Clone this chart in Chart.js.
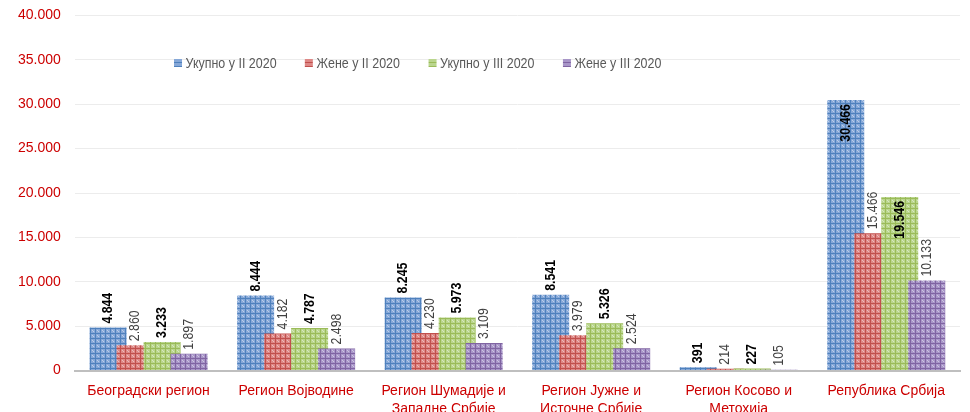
<!DOCTYPE html>
<html>
<head>
<meta charset="utf-8">
<script src="https://cdn.jsdelivr.net/npm/chart.js@4.4.1/dist/chart.umd.min.js"></script>
<style>
  body { margin: 0; background: #fff; }
  #wrap { position: relative; width: 970px; height: 412px; overflow: hidden; }
  #chart { position: absolute; left: 0; top: -7px; }
  #legend {
    position: absolute; left: 174px; top: 55px;
    display: flex; gap: 32px;
    font-family: "Liberation Sans", Arial, sans-serif;
    font-size: 14px; color: #595959;
    transform: scaleX(0.89); transform-origin: 0 0;
  }
  #legend .item { display: flex; align-items: center; white-space: nowrap; }
  #legend .box { width: 9px; height: 8px; margin-right: 4px; }
</style>
</head>
<body>
<div id="wrap">
  <canvas id="chart" width="970" height="436"></canvas>
  <div id="legend"></div>
</div>
<script>
// chart data
const categories = [
    'Београдски регион',
    'Регион Војводине',
    ['Регион Шумадије и', 'Западне Србије'],
    ['Регион Јужне и', 'Источне Србије'],
    ['Регион Косово и', 'Метохија'],
    'Република Србија'
];
const seriesNames = ['Укупно у II 2020', 'Жене у II 2020', 'Укупно у III 2020', 'Жене у III 2020'];
const totalFeb = [4844, 8444, 8245, 8541, 391, 30466];
const womenFeb = [2860, 4182, 4230, 3979, 214, 15466];
const totalMar = [3233, 4787, 5973, 5326, 227, 19546];
const womenMar = [1897, 2498, 3109, 2524, 105, 10133];
const yTicks = [0, 5000, 10000, 15000, 20000, 25000, 30000, 35000, 40000];

const FONT = '"Liberation Sans", Arial, sans-serif';
const baseColors = ['#4f81bd', '#c0504d', '#9bbb59', '#8064a2'];
const lightColors = ['#86a8d8', '#de8886', '#bad68e', '#a896c8'];

// format 12345 -> 12.345
function fmt(v) {
    return String(v).replace(/\B(?=(\d{3})+(?!\d))/g, '.');
}

// grid-like hatch like the excel fill
function makePattern(base, light) {
    const c = document.createElement('canvas');
    c.width = 5;
    c.height = 5;
    const g = c.getContext('2d');
    g.fillStyle = light;
    g.fillRect(0, 0, 5, 5);
    g.fillStyle = base;
    g.fillRect(0, 0, 5, 1);
    g.fillRect(0, 0, 1, 5);
    g.fillStyle = 'rgba(255,255,255,0.45)';
    g.fillRect(2, 2, 1, 1);
    g.fillRect(3, 3, 1, 1);
    return g.createPattern(c, 'repeat');
}

const allSeries = [totalFeb, womenFeb, totalMar, womenMar];

// draw datasets left to right so later series sit on top (excel overlap)
const drawOrderPlugin = {
    id: 'drawOrder',
    beforeDatasetsDraw(chart) {
        const area = chart.chartArea;
        const ctx = chart.ctx;
        ctx.save();
        ctx.beginPath();
        ctx.rect(area.left, area.top - 2, area.right - area.left, area.bottom - area.top + 2);
        ctx.clip();
        for (let i = 0; i < chart.data.datasets.length; i++) {
            chart.getDatasetMeta(i).controller.draw();
        }
        ctx.restore();
        return false;
    }
};

// vertical value labels, squeezed to look like a narrow face
const valueLabelPlugin = {
    id: 'valueLabels',
    afterDraw(chart) {
        const ctx = chart.ctx;
        chart.data.datasets.forEach((ds, i) => {
            const bold = i % 2 === 0;
            const meta = chart.getDatasetMeta(i);
            meta.data.forEach((bar, j) => {
                const v = ds.data[j];
                const inside = v > 18000;
                ctx.save();
                ctx.font = (bold ? 'bold ' : '') + '15px ' + FONT;
                ctx.fillStyle = bold ? '#000000' : '#404040';
                ctx.textBaseline = 'middle';
                ctx.translate(bar.x, inside ? bar.y + 4 : bar.y - 4);
                ctx.rotate(-Math.PI / 2);
                ctx.scale(0.82, 1);
                ctx.textAlign = inside ? 'right' : 'left';
                ctx.fillText(fmt(v), 0, 0);
                ctx.restore();
            });
        });
    }
};

const datasets = seriesNames.map((name, i) => ({
    label: name,
    data: allSeries[i],
    backgroundColor: makePattern(baseColors[i], lightColors[i]),
    borderWidth: 0
}));

new Chart(document.getElementById('chart'), {
    type: 'bar',
    data: { labels: categories, datasets: datasets },
    options: {
        responsive: false,
        animation: false,
        devicePixelRatio: 1,
        categoryPercentage: 0.732,
        barPercentage: 1.37,
        layout: { padding: { left: 4, right: 10, top: 0, bottom: 0 } },
        plugins: {
            legend: { display: false },
            tooltip: { enabled: false }
        },
        scales: {
            x: {
                grid: { display: false, drawTicks: false },
                border: { display: true, color: '#bfbfbf', width: 2 },
                ticks: {
                    color: '#cc0000',
                    font: { family: FONT, size: 14, lineHeight: 1.3 },
                    padding: 11,
                    maxRotation: 0,
                    autoSkip: false
                }
            },
            y: {
                min: 0,
                max: 40000,
                afterBuildTicks(scale) {
                    scale.ticks = yTicks.map(v => ({ value: v }));
                },
                grid: {
                    color: '#ececec',
                    lineWidth: 1,
                    drawTicks: false
                },
                border: { display: false },
                ticks: {
                    color: '#cc0000',
                    font: { family: FONT, size: 14 },
                    padding: 14,
                    callback: v => fmt(v)
                }
            }
        }
    },
    plugins: [drawOrderPlugin, valueLabelPlugin]
});

// html legend
const legendEl = document.getElementById('legend');
seriesNames.forEach((name, i) => {
    const item = document.createElement('div');
    item.className = 'item';
    const box = document.createElement('span');
    box.className = 'box';
    box.style.background = 'repeating-linear-gradient(0deg,' + baseColors[i] + ' 0 1px,' + lightColors[i] + ' 1px 4px)';
    const txt = document.createElement('span');
    txt.textContent = name;
    item.appendChild(box);
    item.appendChild(txt);
    legendEl.appendChild(item);
});
</script>
</body>
</html>
